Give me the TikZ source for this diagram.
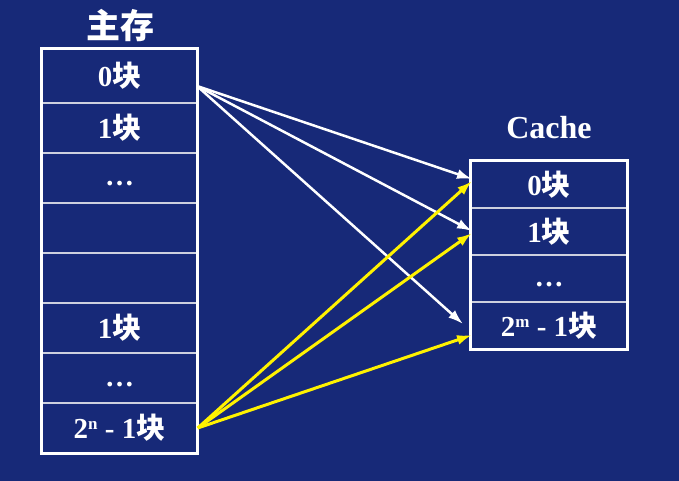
\documentclass[tikz,border=0pt]{standalone}
\usepackage{fontspec}
\setmainfont{Liberation Serif}
\newfontfamily\cjk{Noto Sans CJK SC}
\usetikzlibrary{arrows.meta}
\definecolor{bgblue}{RGB}{23,41,120}
\definecolor{sepgray}{RGB}{205,208,222}
\newcommand{\kuai}{{\cjk\bfseries 块}}
\newcommand{\sps}[1]{\raisebox{9pt}{\fontsize{17}{17}\selectfont #1}}
\newcommand{\rowdots}{\smash{\raisebox{-8pt}{\ldots}}}
\tikzset{
    every node/.style={text=white, font=\fontsize{29}{31}\selectfont\bfseries},
    row/.style={draw=sepgray, line width=1.5pt, minimum width=155pt, minimum height=50pt, inner sep=0pt},
    crow/.style={row, minimum width=156pt, minimum height=47pt},
    outer/.style={draw=white, line width=3pt},
    map/.style={-{Latex[length=15pt,width=10pt]}, white, line width=2.5pt},
    ymap/.style={map, yellow, line width=3pt}
}
\begin{document}
\begin{tikzpicture}[x=1pt,y=-1pt]
\fill[bgblue] (0,0) rectangle (679,481);
\useasboundingbox (0,0) rectangle (679,481);

% main memory
\node[font=\fontsize{34}{36}\selectfont\cjk\bfseries] at (120,26) (mtitle) {主存};
\node[row,minimum height=54pt] at (119.5,76) (m0) {0\kuai};
\node[row] at (119.5,128) (m1) {1\kuai};
\node[row] at (119.5,178) (m2) {\rowdots};
\node[row] at (119.5,228) (m3) {};
\node[row] at (119.5,278) (m4) {};
\node[row] at (119.5,328) (m5) {1\kuai};
\node[row] at (119.5,378) (m6) {\rowdots};
\node[row] at (119.5,428) (m7) {2\sps{n} - 1\kuai};
\draw[outer] (m0.north west) rectangle (m7.south east);

% cache
\node[font=\fontsize{32}{34}\selectfont\bfseries] at (549,128) (ctitle) {Cache};
\node[crow] at (549,184.5) (c0) {0\kuai};
\node[crow] at (549,231.5) (c1) {1\kuai};
\node[crow] at (549,278.5) (c2) {\rowdots};
\node[crow] at (549,325.5) (c3) {2\sps{m} - 1\kuai};
\draw[outer] (c0.north west) rectangle (c3.south east);

% mapping
\coordinate (ws) at (197,86);
\coordinate (w0) at (472,179);
\coordinate (w1) at (472,231);
\coordinate (w2) at (463,324);
\coordinate (y0) at (472,181);
\coordinate (y1) at (472,233);
\coordinate (y2) at (472,335);
\draw[map] (ws) -- (w0);
\draw[map] (ws) -- (w1);
\draw[map] (ws) -- (w2);
\draw[ymap] (m7.east) -- (y0);
\draw[ymap] (m7.east) -- (y1);
\draw[ymap] (m7.east) -- (y2);
\end{tikzpicture}
\end{document}
